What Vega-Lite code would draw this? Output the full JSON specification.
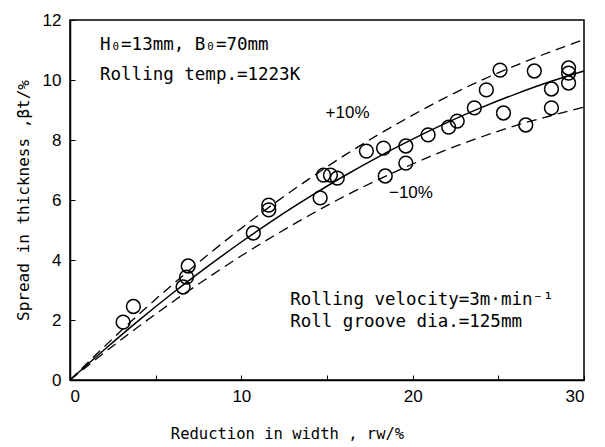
{
  "$schema": "https://vega.github.io/schema/vega-lite/v6.json",
  "autosize": "none",
  "width": 514,
  "height": 360,
  "padding": {"left": 70, "top": 20, "right": 21, "bottom": 67},
  "background": "white",
  "config": {
    "view": {"stroke": "black", "strokeWidth": 1.5},
    "axis": {"grid": false, "domainColor": "black", "domainWidth": 1.5, "tickColor": "black", "labelColor": "black", "titleColor": "black", "labelFont": "Liberation Sans", "labelFontSize": 17, "titleFont": "DejaVu Sans Mono", "titleFontSize": 15.5, "titleFontWeight": "normal", "tickSize": -5, "tickWidth": 1}
  },
  "datasets": {
    "pts": [
      {"rw": 3.1, "bt": 1.93}, {"rw": 3.7, "bt": 2.45}, {"rw": 6.9, "bt": 3.8}, {"rw": 6.8, "bt": 3.43}, {"rw": 6.6, "bt": 3.1},
      {"rw": 10.7, "bt": 4.9}, {"rw": 11.6, "bt": 5.83}, {"rw": 11.6, "bt": 5.67}, {"rw": 14.6, "bt": 6.07}, {"rw": 14.8, "bt": 6.83},
      {"rw": 15.2, "bt": 6.83}, {"rw": 15.6, "bt": 6.73}, {"rw": 17.3, "bt": 7.63}, {"rw": 18.3, "bt": 7.73}, {"rw": 18.4, "bt": 6.8},
      {"rw": 19.6, "bt": 7.8}, {"rw": 19.6, "bt": 7.23}, {"rw": 20.9, "bt": 8.17}, {"rw": 22.1, "bt": 8.43}, {"rw": 22.6, "bt": 8.63},
      {"rw": 23.6, "bt": 9.07}, {"rw": 24.3, "bt": 9.67}, {"rw": 25.1, "bt": 10.33}, {"rw": 25.3, "bt": 8.9}, {"rw": 26.6, "bt": 8.5},
      {"rw": 27.1, "bt": 10.3}, {"rw": 28.1, "bt": 9.7}, {"rw": 28.1, "bt": 9.07}, {"rw": 29.1, "bt": 10.4}, {"rw": 29.1, "bt": 10.23},
      {"rw": 29.1, "bt": 9.9}
    ],
    "curves": [
      {"rw": 0, "mid": 0, "up": 0, "lo": 0},
      {"rw": 2, "mid": 1.01, "up": 1.11, "lo": 0.91},
      {"rw": 4, "mid": 1.98, "up": 2.18, "lo": 1.78},
      {"rw": 6, "mid": 2.9, "up": 3.19, "lo": 2.61},
      {"rw": 8, "mid": 3.77, "up": 4.15, "lo": 3.39},
      {"rw": 10, "mid": 4.6, "up": 5.06, "lo": 4.14},
      {"rw": 12, "mid": 5.38, "up": 5.92, "lo": 4.84},
      {"rw": 14, "mid": 6.11, "up": 6.72, "lo": 5.5},
      {"rw": 16, "mid": 6.8, "up": 7.48, "lo": 6.12},
      {"rw": 18, "mid": 7.44, "up": 8.18, "lo": 6.68},
      {"rw": 20, "mid": 8.03, "up": 8.83, "lo": 7.2},
      {"rw": 22, "mid": 8.58, "up": 9.44, "lo": 7.68},
      {"rw": 24, "mid": 9.08, "up": 9.99, "lo": 8.1},
      {"rw": 26, "mid": 9.53, "up": 10.48, "lo": 8.48},
      {"rw": 28, "mid": 9.94, "up": 10.93, "lo": 8.8},
      {"rw": 30, "mid": 10.3, "up": 11.35, "lo": 9.1}
    ],
    "notes": [
      {"rw": 1.75, "bt": 11.17, "t": "H₀=13mm, B₀=70mm"},
      {"rw": 1.75, "bt": 10.17, "t": "Rolling temp.=1223K"},
      {"rw": 12.85, "bt": 2.67, "t": "Rolling velocity=3m·min⁻¹"},
      {"rw": 12.85, "bt": 1.93, "t": "Roll groove dia.=125mm"}
    ],
    "pct": [
      {"rw": 16.2, "bt": 8.9, "t": "+10%"},
      {"rw": 19.9, "bt": 6.23, "t": "−10%"}
    ]
  },
  "layer": [
    {
      "data": {"name": "curves"},
      "mark": {"type": "line", "color": "black", "strokeWidth": 1.5, "interpolate": "monotone"},
      "encoding": {
        "x": {"field": "rw", "type": "quantitative", "scale": {"domain": [0, 30], "nice": false}, "axis": {"values": [0, 5, 10, 15, 20, 25, 30], "labelExpr": "datum.value % 10 == 0 ? datum.label : ''", "title": "Reduction in width , rw/%", "titleX": 217, "titlePadding": 22, "labelPadding": 13}},
        "y": {"field": "mid", "type": "quantitative", "scale": {"domain": [0, 12], "nice": false}, "axis": {"values": [0, 2, 4, 6, 8, 10, 12], "title": "Spread in thickness ,βt/%", "titleFontSize": 16, "titlePadding": 11, "labelPadding": 14}}
      }
    },
    {
      "data": {"name": "curves"},
      "mark": {"type": "line", "color": "black", "strokeWidth": 1.3, "strokeDash": [10, 6], "interpolate": "monotone"},
      "encoding": {"x": {"field": "rw", "type": "quantitative"}, "y": {"field": "up", "type": "quantitative"}}
    },
    {
      "data": {"name": "curves"},
      "mark": {"type": "line", "color": "black", "strokeWidth": 1.3, "strokeDash": [10, 6], "interpolate": "monotone"},
      "encoding": {"x": {"field": "rw", "type": "quantitative"}, "y": {"field": "lo", "type": "quantitative"}}
    },
    {
      "data": {"name": "pts"},
      "mark": {"type": "point", "shape": "circle", "filled": false, "color": "black", "size": 190, "strokeWidth": 1.5, "opacity": 1},
      "encoding": {"x": {"field": "rw", "type": "quantitative"}, "y": {"field": "bt", "type": "quantitative"}}
    },
    {
      "data": {"name": "notes"},
      "mark": {"type": "text", "align": "left", "baseline": "middle", "font": "DejaVu Sans Mono", "fontSize": 17.5, "color": "black"},
      "encoding": {"x": {"field": "rw", "type": "quantitative"}, "y": {"field": "bt", "type": "quantitative"}, "text": {"field": "t"}}
    },
    {
      "data": {"name": "pct"},
      "mark": {"type": "text", "align": "center", "baseline": "middle", "font": "Liberation Sans", "fontSize": 17, "color": "black"},
      "encoding": {"x": {"field": "rw", "type": "quantitative"}, "y": {"field": "bt", "type": "quantitative"}, "text": {"field": "t"}}
    }
  ]
}
